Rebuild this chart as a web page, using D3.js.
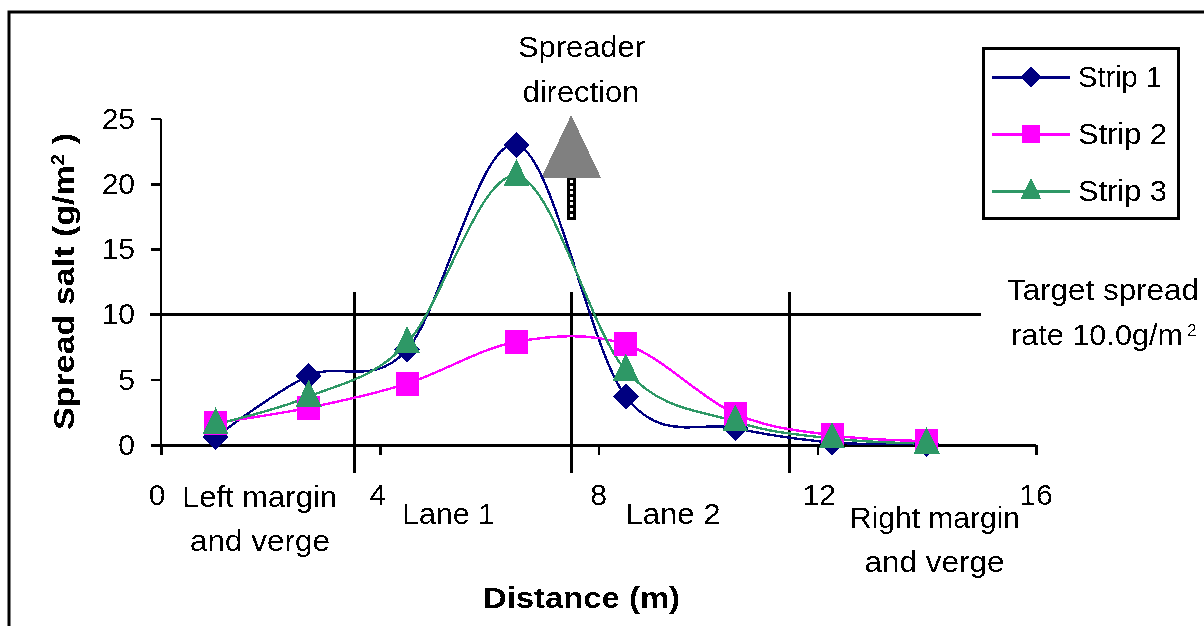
<!DOCTYPE html>
<html><head><meta charset="utf-8">
<script src="https://cdnjs.cloudflare.com/ajax/libs/d3/7.8.5/d3.min.js"></script>
<style>
html,body{margin:0;padding:0;background:#fff;overflow:hidden}
svg{display:block}
text{font-family:"Liberation Sans",Arial,sans-serif;font-size:30px;fill:#000}
.b{font-weight:bold}
</style></head><body>
<svg id="c" width="1204" height="626"></svg>
<script>
const distance=[1.0,2.7,4.5,6.5,8.5,10.5,12.27,14.0];
const strip1=[0.6,5.3,7.3,23.0,3.7,1.3,0.2,0.1];
const strip2=[1.7,2.85,4.7,7.9,7.7,2.4,0.75,0.3];
const strip3=[1.6,3.7,7.8,20.6,5.7,1.8,0.5,0.1];
const seriesNames=["Strip 1","Strip 2","Strip 3"];
const seriesValues=[strip1,strip2,strip3];
const seriesColors=["#000080","#ff00ff","#2e9866"];
const xTicks=[0,4,8,12,16];
const yTicks=[0,5,10,15,20,25];
const dividers=[3.53,7.5,11.5];
const targetRate=10;
const arrowX=7.5;

const svg=d3.select("#c");
const x=d3.scaleLinear().domain([0,16]).range([161,1036]);
const y=d3.scaleLinear().domain([0,25]).range([445,118.5]);

const defs=svg.append("defs");
const f=defs.append("filter").attr("id","alias").attr("x","-5%").attr("y","-5%").attr("width","110%").attr("height","110%");
f.append("feComponentTransfer").append("feFuncA").attr("type","discrete").attr("tableValues","0 0 1 1");

// frame
svg.append("path").attr("d","M9,626V12H1204").attr("fill","none").attr("stroke","#000").attr("stroke-width",3);

// axes
const gx=svg.append("g").attr("transform",`translate(0,${y(0)})`)
  .call(d3.axisBottom(x).tickValues(xTicks).tickSize(10).tickFormat(""));
const gy=svg.append("g").attr("transform",`translate(${x(0)},0)`)
  .call(d3.axisLeft(y).tickValues(yTicks).tickSize(10).tickFormat(""));
[gx,gy].forEach(g=>{g.selectAll("line,path").attr("stroke","#000").attr("stroke-width",2.5).attr("shape-rendering","crispEdges");});
gx.select("path").attr("d",`M151,0.5H${x(16)}`);
gy.select("path").attr("d",`M0,${y(25)}V${y(0)}`);

// target and dividers
svg.append("line").attr("x1",150).attr("x2",981).attr("y1",y(targetRate)).attr("y2",y(targetRate))
  .attr("stroke","#000").attr("stroke-width",3).attr("shape-rendering","crispEdges");
svg.selectAll(".div").data(dividers).join("line").attr("class","div")
  .attr("x1",d=>x(d)).attr("x2",d=>x(d)).attr("y1",292).attr("y2",473)
  .attr("stroke","#000").attr("stroke-width",3).attr("shape-rendering","crispEdges");

// arrow
const ax=x(arrowX);
svg.append("rect").attr("x",ax-4.5).attr("y",177).attr("width",9).attr("height",43).attr("fill","#000").attr("shape-rendering","crispEdges");
svg.selectAll(".dot").data(d3.range(7)).join("rect").attr("class","dot")
  .attr("x",ax-1.5).attr("y",d=>180+d*5.6).attr("width",3).attr("height",3).attr("fill","#fff").attr("shape-rendering","crispEdges");
svg.append("path").attr("d",`M${ax},115L${ax+30},178H${ax-30}Z`).attr("fill","#808080").attr("shape-rendering","crispEdges");

// series
const line=d3.line().x((d,i)=>x(distance[i])).y(d=>y(d)).curve(d3.curveCardinal.tension(0));
seriesValues.forEach((v,i)=>{
  svg.append("path").attr("d",line(v)).attr("fill","none").attr("stroke",seriesColors[i]).attr("stroke-width",2.4).attr("shape-rendering","crispEdges");
});
function marker(g,k,px,py,s){
  if(k===0) g.append("path").attr("d",`M${px},${py-13*s}L${px+13*s},${py}L${px},${py+13*s}L${px-13*s},${py}Z`).attr("fill",seriesColors[0]).attr("shape-rendering","crispEdges");
  if(k===1) g.append("rect").attr("x",px-11.5*s).attr("y",py-12*s).attr("width",23*s).attr("height",24*s).attr("fill",seriesColors[1]).attr("shape-rendering","crispEdges");
  if(k===2) g.append("path").attr("d",`M${px},${py-17*s}L${px+13*s},${py+10*s}H${px-13*s}Z`).attr("fill",seriesColors[2]).attr("shape-rendering","crispEdges");
}
seriesValues.forEach((v,i)=>{
  const g=svg.append("g");
  v.forEach((d,j)=>marker(g,i,x(distance[j]),y(d),1));
});

// text
const t=svg.append("g").attr("filter","url(#alias)");
t.selectAll(".yl").data(yTicks).join("text").attr("class","yl").attr("text-anchor","end")
  .attr("x",135).attr("y",d=>y(d)+10).text(d=>d);
const xOff=[-4,-2,0,2,0];
t.selectAll(".xl").data(xTicks).join("text").attr("class","xl").attr("text-anchor","middle")
  .attr("x",(d,i)=>x(d)+xOff[i]).attr("y",505).text(d=>d);

const notes=[
 ["Spreader",581.5,57,127],["direction",581,102,117],
 ["Left margin",259.5,507,155],["and verge",260,551,140],
 ["Lane 1",448.5,524,93],["Lane 2",673,524,95],
 ["Right margin",935,528,170],["and verge",934.5,572,140],
 ["Target spread",1103,300,192]
];
t.selectAll(".n").data(notes).join("text").attr("class","n").attr("text-anchor","middle")
  .attr("x",d=>d[1]).attr("y",d=>d[2]).attr("textLength",d=>d[3]).attr("lengthAdjust","spacingAndGlyphs").text(d=>d[0]);
const tr=t.append("text").attr("text-anchor","start").attr("x",1011).attr("y",345);
tr.append("tspan").attr("textLength",172).attr("lengthAdjust","spacingAndGlyphs").text("rate 10.0g/m");
t.append("text").attr("x",1187).attr("y",336).style("font-size","17px").text("2");

t.append("text").attr("class","b").attr("text-anchor","middle").attr("x",581.5).attr("y",608)
  .attr("textLength",197).attr("lengthAdjust","spacingAndGlyphs").text("Distance (m)");
const yt=t.append("text").attr("class","b").attr("text-anchor","middle").attr("transform","translate(74,281.5) rotate(-90)")
  .attr("textLength",297).attr("lengthAdjust","spacingAndGlyphs");
yt.append("tspan").text("Spread salt (g/m");
yt.append("tspan").attr("dy",-10).style("font-size","18px").text("2");
yt.append("tspan").attr("dy",10).text(" )");

// legend
svg.append("rect").attr("x",983).attr("y",48).attr("width",195).attr("height",170).attr("fill","#fff").attr("stroke","#000").attr("stroke-width",3).attr("shape-rendering","crispEdges");
const ly=[77,134,191];
seriesNames.forEach((n,i)=>{
  svg.append("line").attr("x1",992).attr("x2",1070).attr("y1",ly[i]).attr("y2",ly[i]).attr("stroke",seriesColors[i]).attr("stroke-width",3).attr("shape-rendering","crispEdges");
  marker(svg,i,1031,ly[i],0.78);
  svg.append("text").attr("filter","url(#alias)").attr("x",1078).attr("y",ly[i]+10).attr("textLength",i?89:84).attr("lengthAdjust","spacingAndGlyphs").text(n);
});
</script></body></html>
